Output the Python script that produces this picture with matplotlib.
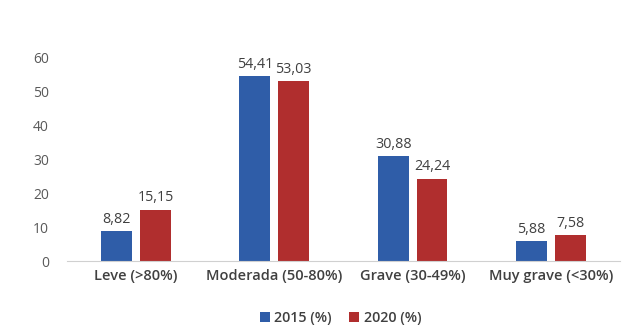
import matplotlib
matplotlib.use("Agg")
import matplotlib.pyplot as plt
import numpy as np

categories = ["Leve (>80%)", "Moderada (50-80%)", "Grave (30-49%)", "Muy grave (<30%)"]
series_names = ["2015 (%)", "2020 (%)"]
values_2015 = [8.82, 54.41, 30.88, 5.88]
values_2020 = [15.15, 53.03, 24.24, 7.58]
yticks = [0, 10, 20, 30, 40, 50, 60]

plt.rcParams['font.family'] = ['Open Sans', 'DejaVu Sans']

fig = plt.figure(figsize=(6.25, 3.28), dpi=100)
ax = fig.add_axes([0.107, 0.204, 0.885, 0.622])

x = np.arange(len(categories))
w = 0.223
gap = 0.058
c_blue = "#2F5DA8"
c_red = "#B02E2E"
b1 = ax.bar(x - (w + gap) / 2, values_2015, w, color=c_blue, label=series_names[0])
b2 = ax.bar(x + (w + gap) / 2, values_2020, w, color=c_red, label=series_names[1])

def fmt(v):
    return f"{v:.2f}".replace(".", ",")

for bars, vals in ((b1, values_2015), (b2, values_2020)):
    for rect, v in zip(bars, vals):
        ax.annotate(fmt(v), (rect.get_x() + rect.get_width() / 2, v),
                    xytext=(0, 3), textcoords="offset points",
                    ha="center", va="bottom", fontsize=10.3, color="#404040")

ax.set_ylim(0, 60)
ax.set_xlim(-0.5, 3.5)
ax.set_yticks(yticks)
ax.set_xticks(x)
ax.set_xticklabels(categories, fontsize=10.5, color="#404040", fontweight="semibold")
ax.tick_params(axis='y', labelsize=10, colors="#595959", length=0, pad=13)
ax.tick_params(axis='x', length=0, pad=6)
for s in ("top", "right", "left"):
    ax.spines[s].set_visible(False)
ax.spines["bottom"].set_color("#D0D0D0")

leg = fig.legend(handles=[b1, b2], loc="lower center", bbox_to_anchor=(0.545, -0.03),
                 ncol=2, frameon=False, fontsize=10.3, handlelength=0.7, handleheight=0.7,
                 columnspacing=1.2, handletextpad=0.3)
for t in leg.get_texts():
    t.set_color("#404040")
    t.set_fontweight("semibold")

fig.savefig("out.png", dpi=100)
